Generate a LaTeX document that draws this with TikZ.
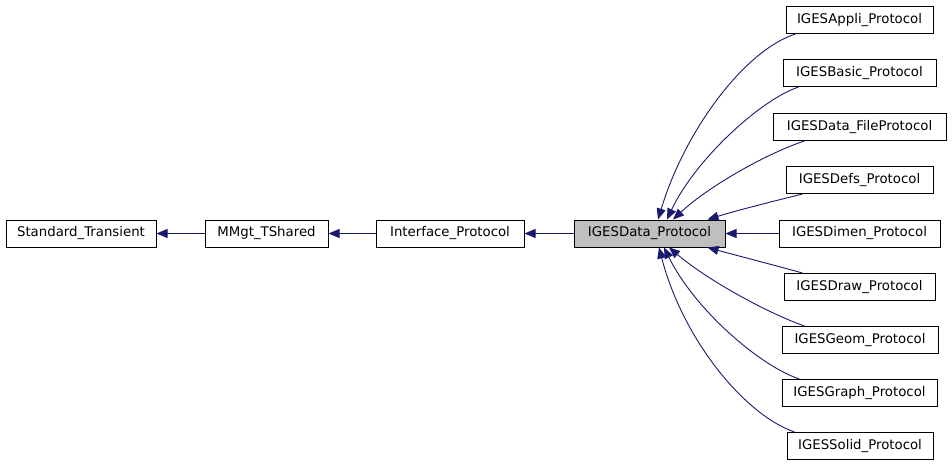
\documentclass[tikz,border=0pt]{standalone}
\usepackage{fontspec}
\setmainfont{DejaVu Sans}
\usetikzlibrary{arrows.meta}
\definecolor{edgecol}{HTML}{191970}
\definecolor{hilite}{HTML}{BFBFBF}
\tikzset{
  cls/.style={draw=black, line width=1pt, minimum height=27pt, inner sep=0pt,
    font=\fontsize{13.3}{15}\selectfont, anchor=center},
  edge/.style={draw=edgecol, line width=0.9pt, -{Triangle[length=11pt,width=9pt]}}
}
\begin{document}
\begin{tikzpicture}[x=1pt,y=-1pt]
\useasboundingbox (0,0) rectangle (952,467);
% left chain
\node[cls, minimum width=150pt] (st) at (81,233.5) {Standard\_Transient};
\node[cls, minimum width=123pt] (mm) at (266.5,233.5) {MMgt\_TShared};
\node[cls, minimum width=148pt] (ip) at (450,233.5) {Interface\_Protocol};
\node[cls, minimum width=151pt, fill=hilite] (dp) at (649.5,233.5) {IGESData\_Protocol};
% right column
\node[cls, minimum width=147pt] (appli) at (859.5,20) {IGESAppli\_Protocol};
\node[cls, minimum width=153pt] (basic) at (859.5,73) {IGESBasic\_Protocol};
\node[cls, minimum width=173pt] (file) at (859.5,127) {IGESData\_FileProtocol};
\node[cls, minimum width=147pt] (defs) at (859.5,180) {IGESDefs\_Protocol};
\node[cls, minimum width=161pt] (dimen) at (859.5,233.5) {IGESDimen\_Protocol};
\node[cls, minimum width=151pt] (drw) at (859.5,287) {IGESDraw\_Protocol};
\node[cls, minimum width=156pt] (geom) at (860,340) {IGESGeom\_Protocol};
\node[cls, minimum width=155pt] (graph) at (859.5,393) {IGESGraph\_Protocol};
\node[cls, minimum width=146pt] (solid) at (860,446) {IGESSolid\_Protocol};
% chain edges
\draw[edge] (mm.west) -- (st.east);
\draw[edge] (ip.west) -- (mm.east);
\draw[edge] (dp.west) -- (ip.east);
\draw[edge] (dimen.west) -- (dp.east);
% curved edges
\draw[edge] ([xshift=10pt]appli.south west) .. controls (745,50) and (685,130) .. ([xshift=8.5pt]dp.north);
\draw[edge] ([xshift=16pt]basic.south west) .. controls (760,100) and (695,160) .. ([xshift=17.5pt]dp.north);
\draw[edge] ([xshift=32pt]file.south west) .. controls (770,152) and (710,185) .. ([xshift=23.5pt]dp.north);
\draw[edge] ([xshift=17pt]defs.south west) .. controls (770,202) and (735,211) .. ([xshift=-18pt]dp.north east);
\draw[edge] ([xshift=19pt]drw.north west) .. controls (770,264) and (735,255) .. ([xshift=-18pt]dp.south east);
\draw[edge] ([xshift=23pt]geom.north west) .. controls (770,314) and (710,282) .. ([xshift=19.5pt]dp.south);
\draw[edge] ([xshift=18pt]graph.north west) .. controls (760,366) and (695,310) .. ([xshift=14.5pt]dp.south);
\draw[edge] ([xshift=8pt]solid.north west) .. controls (745,415) and (683,340) .. ([xshift=9.5pt]dp.south);
\end{tikzpicture}
\end{document}
